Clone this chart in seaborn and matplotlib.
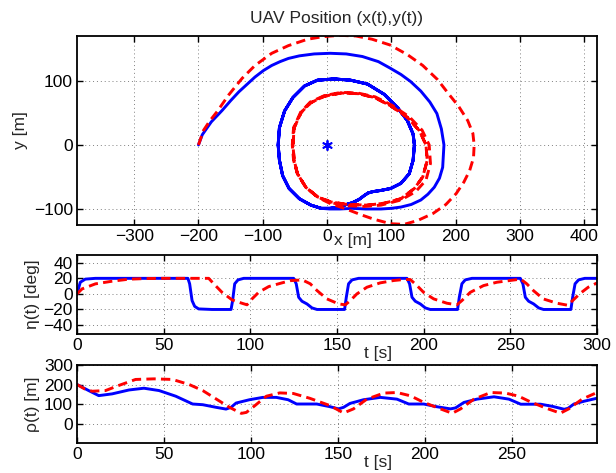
import matplotlib
matplotlib.use("Agg")
import matplotlib.pyplot as plt
import pandas as pd
import seaborn as sns

# ---------------- data ----------------
# UAV 1 (blue, solid): first outer pass, then the repeating loop
blue_spiral_x = [-200, -194, -180, -163, -150, -137, -124, -112, -99, -86,
                 -73, -60, -43, -20, 5, 30, 55, 80, 98, 115,
                 130, 146, 160, 171, 178, 182, 181, 180, 175, 167,
                 157, 146, 131, 115, 100, 84, 60, 40, 20, 4]
blue_spiral_y = [0, 16, 36, 54, 69, 83, 95, 106, 116, 124,
                 130, 135, 139, 142, 143, 142, 138, 130, 120, 110,
                 99, 84, 67, 49, 25, 0, -18, -35, -52, -66,
                 -77, -86, -93, -97, -99, -100, -100, -99, -100, -100]
blue_loop_x = [-9, -25, -43, -59, -69, -74, -76, -74, -66, -53,
               -35, -15, 11, 37, 63, 89, 110, 125, 134, 136,
               134, 128, 115, 99, 84, 71, 64, 58, 50, 40,
               27, 14, 4, -9]
blue_loop_y = [-99, -94, -84, -68, -48, -24, 0, 27, 53, 74,
               92, 101, 103, 101, 95, 79, 58, 38, 17, 0,
               -24, -45, -60, -68, -71, -73, -75, -79, -85, -90,
               -94, -98, -99, -99]

# UAV 2 (red, dashed)
red_spiral_x = [-200, -192, -182, -171, -153, -132, -112, -86, -60, -30,
                -6, 20, 45, 70, 98, 125, 149, 172, 189, 205,
                219, 227, 229, 228, 222, 213, 201, 185, 165, 141,
                120, 99, 73, 53, 27, 6, -12]
red_spiral_y = [0, 23, 38, 52, 78, 104, 124, 143, 155, 165,
                169, 171, 170, 165, 156, 141, 124, 102, 80, 60,
                38, 18, 0, -20, -40, -58, -76, -93, -107, -118,
                -124, -123, -116, -109, -99, -92, -83]
red_loop_x = [-33, -46, -51, -53, -51, -40, -25, -4, 22, 48,
              74, 99, 125, 144, 154, 156, 149, 136, 115, 89,
              63, 32, 6, -15, -33]
red_loop_y = [-66, -45, -24, 0, 27, 51, 66, 76, 81, 80,
              74, 61, 43, 22, 0, -24, -50, -68, -84, -91,
              -94, -93, -89, -81, -66]
red_loop2_x = [-33, -46, -52, -54, -52, -41, -26, -4, 22, 48,
               75, 101, 128, 148, 159, 161, 154, 138, 115, 84,
               58, 30, 6, -15, -33]
red_loop2_y = [-66, -45, -24, 0, 27, 51, 67, 77, 82, 81,
               75, 62, 44, 23, 0, -29, -55, -73, -86, -94,
               -96, -95, -90, -81, -66]

target_x = [0]
target_y = [0]

# eta(t) [deg]
blue_eta_t = [0, 1.9, 4.8, 10.6, 64, 65, 66.4, 67.9, 70.2, 77.9,
              88.9, 89.8, 91, 92.9, 96.2, 125, 126.5, 127.9, 129.8, 132.7,
              135.6, 138.5, 154.4, 155.4, 156.7, 158.7, 162.5, 190.4, 191.9, 193.3,
              195.2, 198.1, 201, 203.8, 219.6, 220.6, 222.1, 224, 227.9, 255.8,
              257.3, 258.7, 260.6, 263.5, 266.4, 269.2, 285, 286, 287.4, 289.4,
              293, 300]
blue_eta = [0, 15, 19, 20, 20, 13, -8.6, -16, -19.3, -20,
            -20, -8.6, 13, 18, 20, 20, 13, -4.3, -9.4, -12.9,
            -18, -20, -20, -4.3, 13, 18, 20, 20, 13, -4.3,
            -9.4, -12.9, -18, -20, -20, -4.3, 13, 18, 20, 20,
            13, -4.3, -9.4, -12.9, -18, -20, -20, -4.3, 13, 18,
            20, 20]
red_eta_t = [0, 2.9, 10.6, 20.2, 29.8, 39.4, 49, 76, 78.9, 83.7,
             89.5, 95.2, 98.1, 101, 104.8, 110.6, 118.3, 123, 130, 134.6,
             138.5, 144.2, 151, 154.8, 157.7, 161.5, 167.3, 175, 182.7, 188.5,
             192.3, 196.2, 200, 205.8, 213.5, 219.2, 222.1, 226.9, 234.6, 242.3,
             249, 256, 259.5, 263.5, 269, 277, 283, 286, 290, 295,
             300]
red_eta = [0, 6.4, 12.9, 16.3, 18.9, 19.7, 20, 20, 13, 2,
           -7.7, -12, -14, -6.4, 2, 9.4, 14.2, 17, 18, 13,
           4.3, -6.4, -12.9, -14, -8.6, 0, 8.6, 14.2, 17.2, 18.5,
           18.5, 10.7, 2, -6.4, -12, -14, -8.6, 2, 10.7, 15,
           17, 19, 13, 4, -6.4, -12, -14.5, -8.6, 0, 8.6,
           14]

# rho(t) [m]
blue_rho_t = [0, 6.7, 12.5, 20.2, 29.9, 38.5, 47.2, 56.8, 66.5, 72.3,
              80, 85.7, 88.6, 91.5, 99.2, 106.9, 114.6, 121.4, 126.3, 137.9,
              145.6, 150.4, 153.3, 157, 164.8, 174.4, 184, 190.8, 199.4, 207,
              214.8, 217.7, 222.5, 230, 239.8, 248.4, 255.2, 266.6, 273.4, 280.2,
              282.4, 285.8, 291.5, 298.8]
blue_rho = [200, 169, 143, 152, 172, 181, 169, 140, 100, 96.5,
            83, 74, 83, 105, 122, 134, 134, 122, 100, 100,
            86, 75, 83, 103, 122, 134, 125, 100, 100, 86,
            75, 80, 108, 125, 137, 125, 99, 99, 88, 73,
            78, 100, 114, 129]
red_rho_t = [0, 4.5, 8.7, 16.4, 24, 33.7, 44.3, 54.9, 64.5, 72.3,
             80, 87.7, 94.5, 97.4, 102.2, 108.9, 116.6, 124.4, 134, 145.6,
             153.3, 159, 166.7, 176.4, 184, 191.8, 199.4, 209, 215.8, 220.6,
             228.3, 237.9, 246.5, 254, 261, 270, 278, 282.8, 290.5, 298.8]
red_rho = [200, 177, 165.5, 169, 195, 226, 229, 226, 200, 169,
           126, 83, 52, 57, 91, 140, 157, 154, 129, 91.5,
           54, 75, 125, 156, 159, 142, 108.5, 75, 52.5, 75,
           125, 159, 156, 140, 110, 78, 53, 75, 125, 158]

# ---------------- styling ----------------
sns.set_style("ticks")
plt.rcParams['font.family'] = ['Liberation Sans', 'DejaVu Sans']
plt.rcParams['axes.unicode_minus'] = True

BLUE = (0, 0, 1)
RED = (1, 0, 0)
LW = 2.1
DASH = (0, (3.2, 1.8))
FS = 12.5

fig = plt.figure(figsize=(6.16, 4.73), dpi=100)
ax1 = fig.add_axes([0.125, 0.5243, 0.844, 0.3996])
ax2 = fig.add_axes([0.125, 0.2939, 0.844, 0.167])
ax3 = fig.add_axes([0.125, 0.0634, 0.844, 0.1649])


def style_axes(ax):
    ax.grid(True, linestyle=(0, (1, 3)), color='0.5', linewidth=0.7)
    ax.set_axisbelow(True)
    for s in ax.spines.values():
        s.set_visible(True)
        s.set_color('black')
        s.set_linewidth(1.3)
    ax.tick_params(direction='in', length=4, width=1.0, top=True, right=True,
                   labelsize=FS, pad=3, colors='black')
    ax.set_facecolor('white')


# ---- top: trajectories ----
blue_path = pd.DataFrame({
    'x': blue_spiral_x + blue_loop_x + blue_loop_x + blue_loop_x,
    'y': blue_spiral_y + blue_loop_y + blue_loop_y + blue_loop_y})
red_path = pd.DataFrame({
    'x': red_spiral_x + red_loop_x + red_loop2_x + red_loop_x,
    'y': red_spiral_y + red_loop_y + red_loop2_y + red_loop_y})

sns.lineplot(data=blue_path, x='x', y='y', sort=False, estimator=None,
             color=BLUE, linewidth=LW, ax=ax1)
sns.lineplot(data=red_path, x='x', y='y', sort=False, estimator=None,
             color=RED, linewidth=LW, linestyle=DASH, ax=ax1)
sns.scatterplot(x=target_x, y=target_y, marker=(6, 2, 0), s=45,
                color=BLUE, edgecolor=BLUE, linewidth=1.3, ax=ax1, zorder=5)

style_axes(ax1)
ax1.set_xlim(-389, 420)
ax1.set_ylim(-125, 170)
ax1.set_xticks([-300, -200, -100, 0, 100, 200, 300, 400])
ax1.set_yticks([-100, 0, 100])
ax1.set_title("UAV Position (x(t),y(t))", fontsize=FS, pad=9)
ax1.set_xlabel("x [m]", fontsize=FS)
ax1.set_ylabel("y [m]", fontsize=FS)
ax1.xaxis.set_label_coords(0.53, -0.04)
ax1.yaxis.set_label_coords(-0.095, 0.5)

# ---- middle: eta ----
sns.lineplot(x=blue_eta_t, y=blue_eta, sort=False, estimator=None,
             color=BLUE, linewidth=LW, ax=ax2)
sns.lineplot(x=red_eta_t, y=red_eta, sort=False, estimator=None,
             color=RED, linewidth=LW, linestyle=DASH, ax=ax2)
style_axes(ax2)
ax2.set_xlim(0, 300)
ax2.set_ylim(-51.5, 50)
ax2.set_xticks([0, 50, 100, 150, 200, 250, 300])
ax2.set_yticks([-40, -20, 0, 20, 40])
ax2.set_xlabel("t [s]", fontsize=FS)
ax2.set_ylabel("η(t) [deg]", fontsize=FS)
ax2.xaxis.set_label_coords(0.579, -0.15)
ax2.yaxis.set_label_coords(-0.072, 0.5)

# ---- bottom: rho ----
sns.lineplot(x=blue_rho_t, y=blue_rho, sort=False, estimator=None,
             color=BLUE, linewidth=LW, ax=ax3)
sns.lineplot(x=red_rho_t, y=red_rho, sort=False, estimator=None,
             color=RED, linewidth=LW, linestyle=DASH, ax=ax3)
style_axes(ax3)
ax3.set_xlim(0, 299)
ax3.set_ylim(-100, 300)
ax3.set_xticks([0, 50, 100, 150, 200, 250])
ax3.set_yticks([0, 100, 200, 300])
ax3.set_xlabel("t [s]", fontsize=FS)
ax3.set_ylabel("ρ(t) [m]", fontsize=FS)
ax3.xaxis.set_label_coords(0.579, -0.155)
ax3.yaxis.set_label_coords(-0.072, 0.5)

fig.savefig("out.png", dpi=100, facecolor='white')
